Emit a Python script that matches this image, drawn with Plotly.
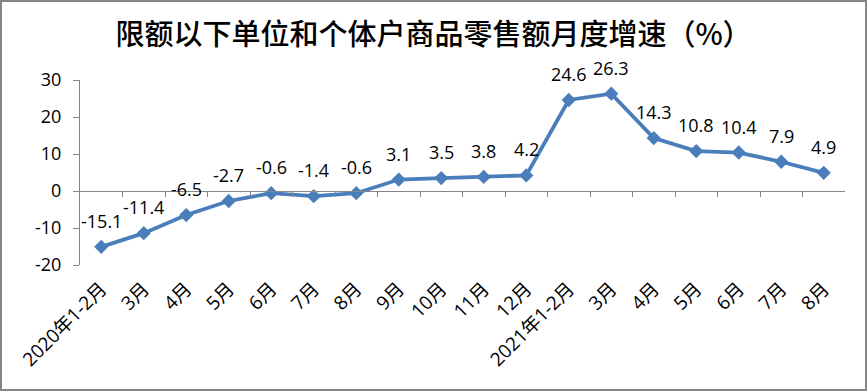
import plotly.graph_objects as go

categories = ["2020年1-2月", "3月", "4月", "5月", "6月", "7月", "8月", "9月", "10月", "11月", "12月",
              "2021年1-2月", "3月", "4月", "5月", "6月", "7月", "8月"]
values = [-15.1, -11.4, -6.5, -2.7, -0.6, -1.4, -0.6, 3.1, 3.5, 3.8, 4.2,
          24.6, 26.3, 14.3, 10.8, 10.4, 7.9, 4.9]
y_ticks = [-20, -10, 0, 10, 20, 30]

W, H = 867, 391
L, R, T, B = 80, 22, 80, 126
pw, ph = W - L - R, H - T - B

xs = list(range(len(categories)))
font_fam = "'Open Sans', 'Noto Sans CJK SC', sans-serif"

fig = go.Figure()
fig.add_trace(go.Scatter(
    x=xs, y=values, mode="lines+markers",
    line=dict(color="#4A7EBB", width=3.8),
    marker=dict(symbol="diamond", size=11, color="#4A7EBB"),
    cliponaxis=False, showlegend=False, hoverinfo="skip",
))
# invisible trace to bind the zero-crossing category axis
fig.add_trace(go.Scatter(x=xs, y=values, xaxis="x2", mode="none", showlegend=False, hoverinfo="skip"))

annotations = [dict(x=x, y=v, xref="x", yref="y", text=f"{v:.1f}", showarrow=False,
                    yshift=26, font=dict(size=18, family=font_fam, color="#000000"))
               for x, v in zip(xs, values)]

fig.update_layout(
    width=W, height=H,
    margin=dict(l=L, r=R, t=T, b=B),
    paper_bgcolor="white", plot_bgcolor="white",
    title=dict(text="限额以下单位和个体户商品零售额月度增速（%）", x=0.5, xanchor="center",
               y=1 - 35 / H, yanchor="middle",
               font=dict(size=29, family="'Noto Sans CJK SC', sans-serif", color="#000000", weight=500)),
    annotations=annotations,
    xaxis=dict(range=[-0.5, len(categories) - 0.5], tickmode="array", tickvals=xs, ticktext=categories,
               tickangle=-45, showline=False, showgrid=False, zeroline=False, ticks="",
               automargin=False, ticklabelstandoff=8,
               tickfont=dict(size=19, family=font_fam, color="#000000")),
    xaxis2=dict(range=[-0.5, len(categories) - 0.5], overlaying="x", anchor="free",
                position=(0 - y_ticks[0]) / (y_ticks[-1] - y_ticks[0]),
                tickmode="array", tickvals=[i - 0.5 for i in range(1, len(categories))],
                showticklabels=False, showline=True, linecolor="#868686", linewidth=1,
                ticks="outside", ticklen=5, tickcolor="#868686", showgrid=False, zeroline=False,
                automargin=False),
    yaxis=dict(range=[y_ticks[0], y_ticks[-1]], tickmode="array", tickvals=y_ticks,
               ticktext=[str(t) for t in y_ticks],
               showline=True, linecolor="#868686", linewidth=1, ticks="outside", ticklen=6,
               tickcolor="#868686", showgrid=False, zeroline=False, automargin=False,
               ticklabelstandoff=8,
               tickfont=dict(size=18, family=font_fam, color="#000000")),
    shapes=[dict(type="rect", xref="paper", yref="paper",
                 x0=-(L - 1) / pw, x1=1 + (R - 1) / pw, y0=-(B - 1) / ph, y1=1 + (T - 1) / ph,
                 line=dict(color="#868686", width=2))],
)

fig.write_html("out.html", config={"displayModeBar": False},
               post_script="document.body.style.margin='0';document.body.style.overflow='hidden';")
